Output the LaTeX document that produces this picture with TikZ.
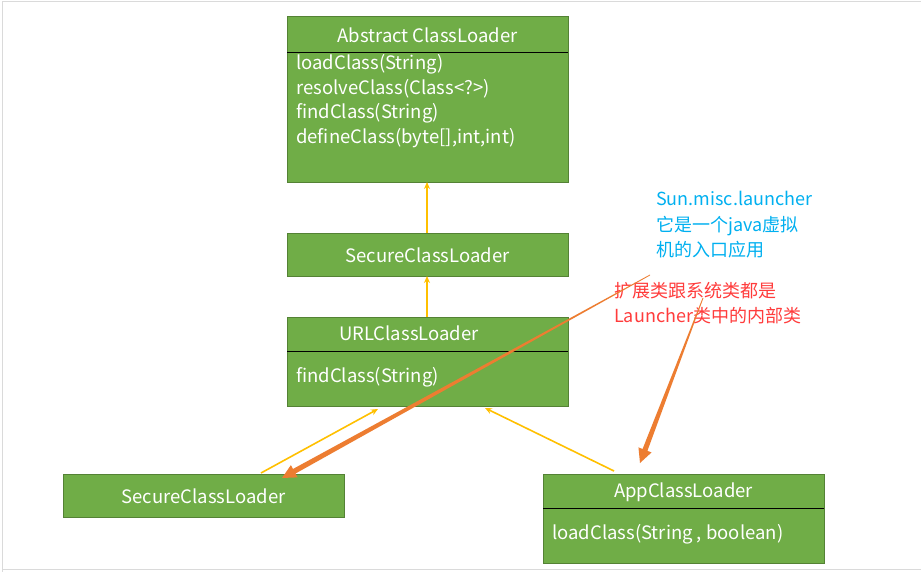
\documentclass[tikz,border=0pt]{standalone}
\usepackage{fontspec}
\setmainfont{Noto Sans CJK SC}
\usetikzlibrary{arrows.meta,calc}
\definecolor{boxgreen}{RGB}{112,173,71}
\definecolor{boxedge}{RGB}{84,130,53}
\definecolor{arrowyellow}{RGB}{255,192,0}
\definecolor{noteorange}{RGB}{237,125,49}
\definecolor{noteblue}{RGB}{0,176,240}
\definecolor{notered}{RGB}{255,60,60}
\definecolor{framegray}{RGB}{218,218,218}
\begin{document}
\begin{tikzpicture}[x=1pt,y=-1pt,
  classbox/.style={draw=boxedge,line width=0.8pt,fill=boxgreen,minimum width=281pt,inner sep=0pt,outer sep=0pt},
  boxtext/.style={text=white,font=\fontsize{18.5}{20}\selectfont,inner sep=0pt,text height=0.7em,text depth=0pt,yshift=-3.5pt},
  divider/.style={black,line width=1pt},
  inherit/.style={draw=arrowyellow,line width=1.6pt,-{Stealth[length=7pt,width=6pt]}},
  note/.style={font=\fontsize{18}{25.5}\selectfont,inner sep=0pt,anchor=north west,align=left},
  tapered/.style={fill=noteorange,draw=none}
]
\useasboundingbox (0,0) rectangle (921,572);
\fill[white] (0,0) rectangle (921,572);
% frame
\draw[framegray,line width=1.5pt] (2.5,572) -- (2.5,1.5) -- (921,1.5);
\draw[framegray,line width=1.5pt] (2.5,569.5) -- (921,569.5);

% boxes
\node[classbox,minimum height=166pt] (acl) at (427.5,99) {};
\node[classbox,minimum height=43pt] (scl) at (427.5,254.5) {};
\node[classbox,minimum height=89pt] (url) at (427.5,361.5) {};
\node[classbox,minimum height=43pt] (bscl) at (203.5,495.5) {};
\node[classbox,minimum height=89pt] (app) at (683.5,518.5) {};

% dividers
\draw[divider] (acl.north west |- 0,53) -- (acl.north east |- 0,53);
\draw[divider] (url.north west |- 0,351) -- (url.north east |- 0,351);
\draw[divider] (app.north west |- 0,508) -- (app.north east |- 0,508);

% texts
\node[boxtext] (aclt) at (427.5,36) {Abstract ClassLoader};
\node[boxtext,anchor=west] (m1) at (296,63) {loadClass(String)};
\node[boxtext,anchor=west] (m2) at (296,87.5) {resolveClass(Class<?>)};
\node[boxtext,anchor=west] (m3) at (296,112) {findClass(String)};
\node[boxtext,anchor=west] (m4) at (296,136.5) {defineClass(byte[],int,int)};
\node[boxtext] (sclt) at (427.5,255) {SecureClassLoader};
\node[boxtext] (urlt) at (409,333) {URLClassLoader};
\node[boxtext,anchor=west] (urlm) at (296,375) {findClass(String)};
\node[boxtext] (bsclt) at (203.5,496) {SecureClassLoader};
\node[boxtext] (appt) at (683.5,490) {AppClassLoader};
\node[boxtext,anchor=west] (appm) at (552,532) {loadClass(String , boolean)};

% notes
\node[note,text=noteblue] (blue) at (656,191) {Sun.misc.launcher\\它是一个java虚拟\\机的入口应用};
\node[note,text=notered] (red) at (614,282) {扩展类跟系统类都是\\Launcher类中的内部类};

% inheritance arrows
\draw[inherit] ($(scl.north)+(-0.5,0)$) -- ($(acl.south)+(-0.5,0)$);
\draw[inherit] ($(url.north)+(-0.5,0)$) -- ($(scl.south)+(-0.5,0)$);
\draw[inherit] ($(bscl.north)+(57.5,-1)$) -- ($(url.south)+(-49.5,3)$);
\draw[inherit] ($(app.north)+(-69.5,-3)$) -- ($(url.south)+(57.5,2)$);

% orange annotation arrows (tapered)
\coordinate (s1) at ($(red.north west)+(36,-7)$);
\coordinate (e1) at ($(bscl.north)+(78.5,4)$);
\coordinate (b1) at ($(e1)!14pt!(s1)$);
\fill[tapered] ($(s1)!0.4pt!90:(e1)$) -- ($(s1)!0.4pt!-90:(e1)$) -- ($(b1)!2.6pt!-90:(e1)$) -- ($(b1)!7pt!-90:(e1)$) -- (e1) -- ($(b1)!7pt!90:(e1)$) -- ($(b1)!2.6pt!90:(e1)$) -- cycle;

\coordinate (s2) at ($(red.north west)+(89,16)$);
\coordinate (e2) at ($(app.north)+(-43.5,-11)$);
\coordinate (b2) at ($(e2)!14pt!(s2)$);
\fill[tapered] ($(s2)!0.4pt!90:(e2)$) -- ($(s2)!0.4pt!-90:(e2)$) -- ($(b2)!2.6pt!-90:(e2)$) -- ($(b2)!7pt!-90:(e2)$) -- (e2) -- ($(b2)!7pt!90:(e2)$) -- ($(b2)!2.6pt!90:(e2)$) -- cycle;
\end{tikzpicture}
\end{document}
